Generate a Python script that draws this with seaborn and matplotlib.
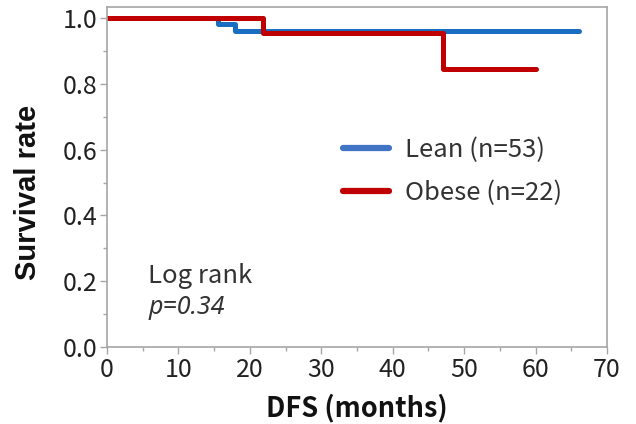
import matplotlib
matplotlib.use("Agg")
import matplotlib.pyplot as plt
import seaborn as sns
import pandas as pd
from matplotlib.ticker import MultipleLocator
from matplotlib.lines import Line2D

# Data (Kaplan-Meier step points)
lean_time = [0, 15.5, 17.9, 66.1]
lean_surv = [1.0, 0.981, 0.962, 0.962]
obese_time = [0, 21.8, 47.1, 60.0]
obese_surv = [1.0, 0.955, 0.845, 0.845]
group_labels = ["Lean (n=53)", "Obese (n=22)"]
group_colors = ["#1A6EC2", "#C00000"]
legend_colors = ["#4274C6", "#C00000"]
x_ticks = [0, 10, 20, 30, 40, 50, 60, 70]
y_ticks = [0.0, 0.2, 0.4, 0.6, 0.8, 1.0]

sns.set_style("white")
plt.rcParams["font.family"] = ["Noto Sans CJK JP", "DejaVu Sans"]

df = pd.concat([
    pd.DataFrame({"time": lean_time, "surv": lean_surv, "group": group_labels[0]}),
    pd.DataFrame({"time": obese_time, "surv": obese_surv, "group": group_labels[1]}),
], ignore_index=True)

fig = plt.figure(figsize=(6.36, 4.24), dpi=100)
# axes: left 107px, right 607px, top 7px, bottom 347px
ax = fig.add_axes([107 / 636, (424 - 347) / 424, 500 / 636, 340 / 424])

sns.lineplot(data=df, x="time", y="surv", hue="group", palette=group_colors,
             drawstyle="steps-post", linewidth=3.6, estimator=None, sort=False,
             legend=False, ax=ax)

ax.set_xlim(0, 70)
ax.set_ylim(0, 1.034)
ax.set_xticks(x_ticks)
ax.set_yticks(y_ticks)
ax.set_xticklabels([str(v) for v in x_ticks])
ax.set_yticklabels([f"{v:.1f}" for v in y_ticks])
ax.xaxis.set_minor_locator(MultipleLocator(5))
ax.yaxis.set_minor_locator(MultipleLocator(0.1))

spine_col = "#A6A6A6"
for s in ax.spines.values():
    s.set_color(spine_col)
    s.set_linewidth(1.2)
ax.tick_params(axis="both", which="major", direction="out", length=5, width=1,
               color=spine_col, labelsize=18, labelcolor="#222222", pad=2,
               left=True, bottom=True)
ax.tick_params(axis="both", which="minor", direction="out", length=3, width=1,
               color=spine_col, left=True, bottom=True)

ax.set_xlabel("DFS (months)", fontsize=19.5, fontweight="bold", labelpad=8,
              color="#111111")
ax.set_ylabel("Survival rate", fontsize=21, fontweight="bold",
              family=["Liberation Sans", "DejaVu Sans"], color="#111111",
              va="center", ha="center")
ax.yaxis.set_label_coords(-0.158, 0.455)

handles = [Line2D([], [], color=c, linewidth=4.5) for c in legend_colors]
ax.legend(handles, group_labels, loc="center left", bbox_to_anchor=(0.426, 0.515),
          frameon=False, fontsize=18.5, handlelength=1.8, handletextpad=0.6,
          labelspacing=0.66, labelcolor="#333333")

ax.text(5.8, 0.196, "Log rank", fontsize=18.5, color="#333333", ha="left",
        va="baseline")
ax.text(5.8, 0.10, "p=0.34", fontsize=18, color="#333333", style="italic",
        family=["Noto Sans", "DejaVu Sans"], ha="left", va="baseline")

fig.savefig("out.png", dpi=100)
